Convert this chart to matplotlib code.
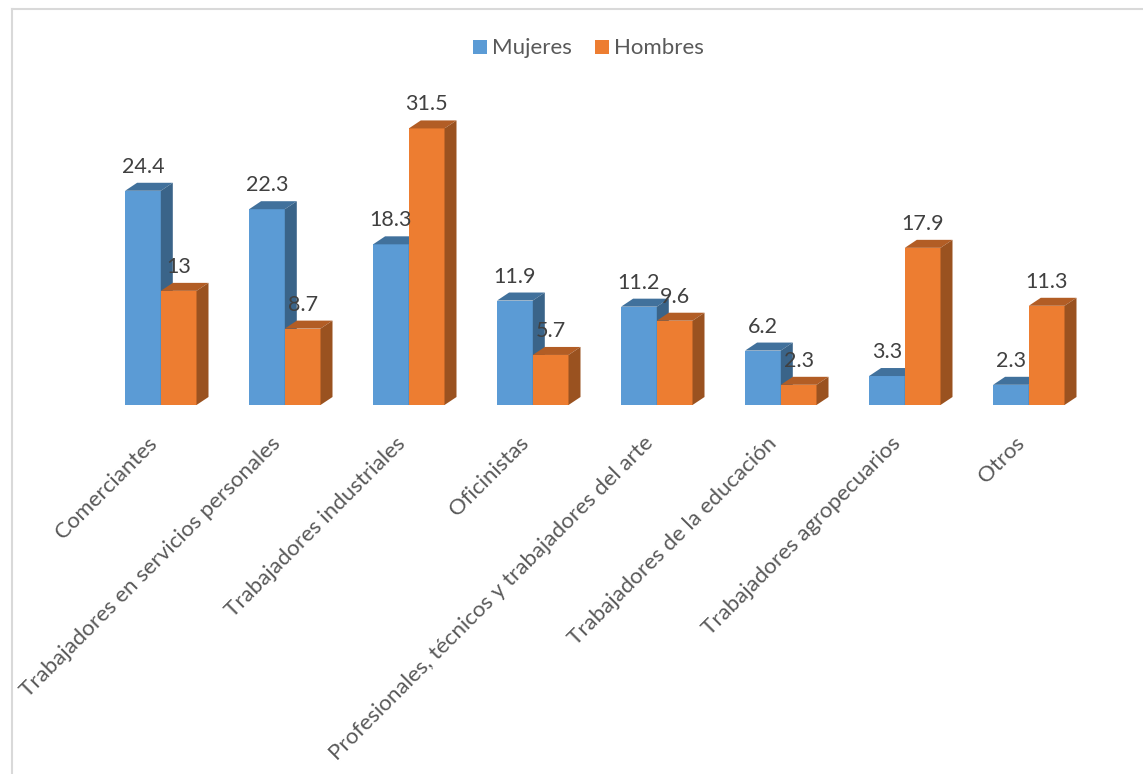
import matplotlib
matplotlib.use("Agg")
import matplotlib.pyplot as plt
from matplotlib.patches import Polygon, Rectangle
from matplotlib.lines import Line2D

categorias = ["Comerciantes", "Trabajadores en servicios personales", "Trabajadores industriales",
              "Oficinistas", "Profesionales, técnicos y trabajadores del arte",
              "Trabajadores de la educación", "Trabajadores agropecuarios", "Otros"]
mujeres = [24.4, 22.3, 18.3, 11.9, 11.2, 6.2, 3.3, 2.3]
hombres = [13, 8.7, 31.5, 5.7, 9.6, 2.3, 17.9, 11.3]
etiq_mujeres = ["24.4", "22.3", "18.3", "11.9", "11.2", "6.2", "3.3", "2.3"]
etiq_hombres = ["13", "8.7", "31.5", "5.7", "9.6", "2.3", "17.9", "11.3"]

plt.rcParams['font.family'] = ['Lato', 'DejaVu Sans']

W, H = 1143, 774
fig = plt.figure(figsize=(W / 100, H / 100), dpi=100)
ax = fig.add_axes([0, 0, 1, 1])

# one category = 124 px, one unit of y = 8.78 px, baseline at y=405 px
px_x = 124.0
px_y = 8.78
x0 = -160.8 / px_x   # category 0 is centred on about x=161 px
ax.set_xlim(x0, x0 + W / px_x)
ax.set_ylim(-(H - 405) / px_y, 405 / px_y)
ax.axis("off")

ancho = 35.7 / px_x
dx = 12 / px_x
dy = 8 / px_y

AZUL, AZUL_TOP, AZUL_LADO = "#5B9BD5", "#41719C", "#3A6489"
NAR, NAR_TOP, NAR_LADO = "#ED7D31", "#B25D25", "#9A5220"
TXT = "#404040"


def barra_3d(x, v, c, c_top, c_lado, z):
    ax.bar(x, v, ancho, align="edge", color=c, zorder=z)
    ax.add_patch(Polygon([(x, v), (x + ancho, v), (x + ancho + dx, v + dy), (x + dx, v + dy)],
                         closed=True, fc=c_top, ec="none", zorder=z))
    ax.add_patch(Polygon([(x + ancho, 0), (x + ancho + dx, dy), (x + ancho + dx, v + dy), (x + ancho, v)],
                         closed=True, fc=c_lado, ec="none", zorder=z))


for i in range(len(categorias)):
    barra_3d(i - ancho, mujeres[i], AZUL, AZUL_TOP, AZUL_LADO, 2)
    barra_3d(i, hombres[i], NAR, NAR_TOP, NAR_LADO, 3)
    ax.text(i - ancho / 2, mujeres[i] + dy + 16 / px_y, etiq_mujeres[i], ha="center", va="center",
            fontsize=15.5, color=TXT, zorder=5)
    ax.text(i + ancho / 2, hombres[i] + dy + 16 / px_y, etiq_hombres[i], ha="center", va="center",
            fontsize=15.5, color=TXT, zorder=5)
    ax.annotate(categorias[i], (i - 14 / px_x, 0), xytext=(0, -28), textcoords="offset pixels",
                rotation=45, rotation_mode="anchor", ha="right", va="top", fontsize=16, color="#595959")

# marco gris del grafico
fig.add_artist(Line2D([11.5 / W, 11.5 / W], [0, 1 - 9 / H], color="#D9D9D9", lw=1.5))
fig.add_artist(Line2D([11.5 / W, 1], [1 - 9 / H, 1 - 9 / H], color="#D9D9D9", lw=1.5))

# leyenda
fig.add_artist(Rectangle((473 / W, 1 - 54 / H), 14 / W, 14 / H, fc=AZUL, ec="none", transform=fig.transFigure))
fig.text(492 / W, 1 - 48 / H, "Mujeres", fontsize=16, color="#595959", va="center")
fig.add_artist(Rectangle((595 / W, 1 - 54 / H), 14 / W, 14 / H, fc=NAR, ec="none", transform=fig.transFigure))
fig.text(614 / W, 1 - 48 / H, "Hombres", fontsize=16, color="#595959", va="center")

fig.savefig("out.png", dpi=100)
